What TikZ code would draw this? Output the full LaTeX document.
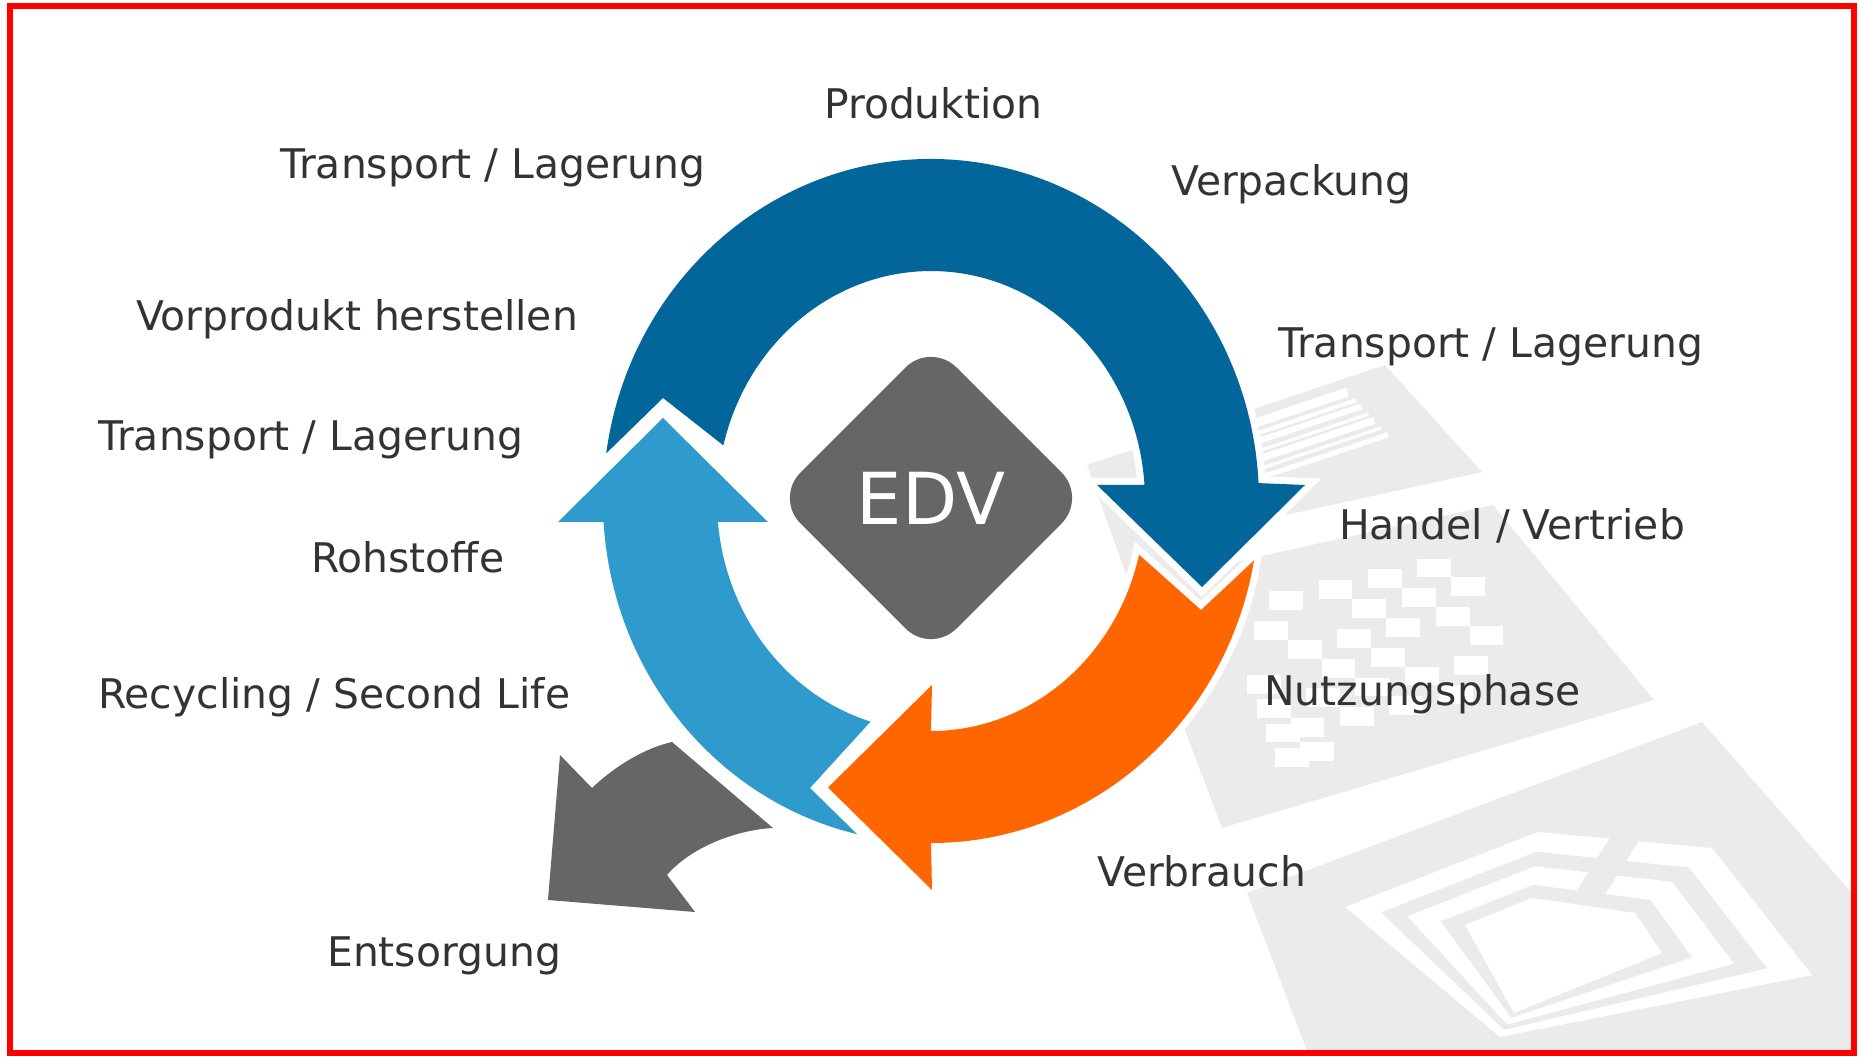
\documentclass[tikz,border=0pt]{standalone}
\usepackage{fontspec}
\setmainfont{DejaVu Sans}
\usepackage{xcolor}
\usetikzlibrary{shapes.geometric,calc}
\definecolor{cycledark}{HTML}{03669A}
\definecolor{cyclelight}{HTML}{2F9BCD}
\definecolor{cycleorange}{HTML}{FF6600}
\definecolor{edvgray}{HTML}{666666}
\definecolor{cardgray}{HTML}{EBEBEB}
\definecolor{labelgray}{HTML}{333333}
\tikzstyle{steplabel} = [anchor=base west, inner sep=0pt, text=labelgray,
    font=\fontsize{41}{48}\selectfont]
\tikzstyle{edvbox} = [diamond, aspect=1, fill=edvgray, minimum width=312bp,
    minimum height=312bp, inner sep=0pt, outer sep=0pt, rounded corners=36bp,
    text=white, font=\fontsize{72}{80}\selectfont]
\tikzstyle{card} = [fill=cardgray]
\tikzstyle{cyclearrow} = [preaction={draw=white, line width=14bp}]

\begin{document}
\begin{tikzpicture}[x=1bp, y=1bp]
\useasboundingbox (0,0) rectangle (1859,1056);
\fill[white] (0,0) rectangle (1859,1056);

% background cards
\begin{scope}
\clip (10,3) rectangle (1854,1050);
\fill[card] (1087,591) -- (1385,691) -- (1482,584) -- (1295,543) -- (1230,529) -- (1171,356) -- cycle;
\fill[card] (1130,471) -- (1493,551) -- (1654,356) -- (1222,228) -- cycle;
\fill[card] (1247,163) -- (1702,334) -- (1900,108) -- (1900,-50) -- (1328,-50) -- cycle;
% barcode
\begin{scope}[shift={(1087,591)}, x={(298bp,100bp)}, y={(29bp,-81bp)}]
\foreach \t/\w in {0.16/9, 0.28/4, 0.37/6, 0.48/3, 0.57/7, 0.68/3, 0.78/5}
  \draw[white, line width=\w bp] (0.36,\t) -- (0.84+0.12*\t,\t);
\end{scope}
% checkers
\begin{scope}[shift={(1130,471)}, x={(363bp,80bp)}, y={(92bp,-243bp)}]
\foreach \i/\j in {1/0,3/0,5/0,7/0, 0/1,4/1,6/1,8/1,
    1/2,3/2,5/2,7/2, 2/3,4/3,8/3,
    1/4,3/4,5/4,7/4, 0/5,2/5,4/5,6/5, -1/3,-1/4,-1/5,-1/6,0/6}
  \fill[white] (0.28+0.068*\i,0.14+0.1*\j) rectangle ++(0.068,0.1);
\end{scope}
% tag antenna
\coordinate (o1) at (1345,149); \coordinate (i1) at (1465,131);
\coordinate (o2) at (1538,224); \coordinate (i2) at (1532,158);
\coordinate (o3) at (1712,208); \coordinate (i3) at (1635,143);
\coordinate (o4) at (1812,81);  \coordinate (i4) at (1662,103);
\coordinate (o5) at (1500,19);  \coordinate (i5) at (1514,43);
\foreach \f/\c in {1/white, 0.70/cardgray, 0.48/white}
  \fill[\c] ($(i1)!\f!(o1)$) -- ($(i2)!\f!(o2)$) -- ($(i3)!\f!(o3)$)
    -- ($(i4)!\f!(o4)$) -- ($(i5)!\f!(o5)$) -- cycle;
\draw[cardgray, line width=26bp] (1628,222) -- (1586,156);
\foreach \f/\c in {0.2/cardgray, 0/white}
  \fill[\c] ($(i1)!\f!(o1)$) -- ($(i2)!\f!(o2)$) -- ($(i3)!\f!(o3)$)
    -- ($(i4)!\f!(o4)$) -- ($(i5)!\f!(o5)$) -- cycle;
\end{scope}

% cycle arrows
\fill[cycledark, cyclearrow] (606.2,602.6) arc[start angle=172, end angle=3, x radius=328, y radius=342]
  -- (1305,571) -- (1202,469) -- (1097,571) -- (1144.5,571)
  arc[start angle=4, end angle=166, x radius=214, y radius=230] -- (663,658) -- cycle;
\fill[cyclelight, cyclearrow] (857.2,221.8) arc[start angle=257, end angle=183.5, x radius=328, y radius=342]
  -- (558,534) -- (663,638) -- (768,534) -- (717.9,534.2)
  arc[start angle=185.2, end angle=253.6, x radius=214, y radius=230] -- (810,268) -- cycle;
\fill[cycleorange, cyclearrow] (1254,495.6) arc[start angle=-10, end angle=-90, x radius=328, y radius=342]
  -- (932,166) -- (828,268.5) -- (932,371) -- (931,325)
  arc[start angle=-90, end angle=-13.5, x radius=214, y radius=230] -- (1201,446) -- cycle;
\fill[edvgray] (548,156) -- (560,301) -- (592,268) .. controls (615,290) and (645,308) .. (672,314)
  -- (773,228) .. controls (735,226) and (690,208) .. (667,181) -- (695,144) -- cycle;

\node[edvbox] (edv) at (931,558) {EDV};

\node[steplabel] (produktion) at (824,937) {Produktion};
\node[steplabel] (transA) at (280,877) {Transport / Lagerung};
\node[steplabel] (verpackung) at (1171,860) {Verpackung};
\node[steplabel] (vorprodukt) at (136,725) {Vorprodukt herstellen};
\node[steplabel] (transB) at (1278,698) {Transport / Lagerung};
\node[steplabel] (transC) at (98,605) {Transport / Lagerung};
\node[steplabel] (handel) at (1339,516) {Handel / Vertrieb};
\node[steplabel] (rohstoffe) at (311,483) {Rohstoffe};
\node[steplabel] (recycling) at (98,347) {Recycling / Second Life};
\node[steplabel] (nutzung) at (1264,350) {Nutzungsphase};
\node[steplabel] (verbrauch) at (1097,169) {Verbrauch};
\node[steplabel] (entsorgung) at (327,90) {Entsorgung};

\draw[red, line width=6bp] (10,3) rectangle (1854,1050);
\end{tikzpicture}
\end{document}
